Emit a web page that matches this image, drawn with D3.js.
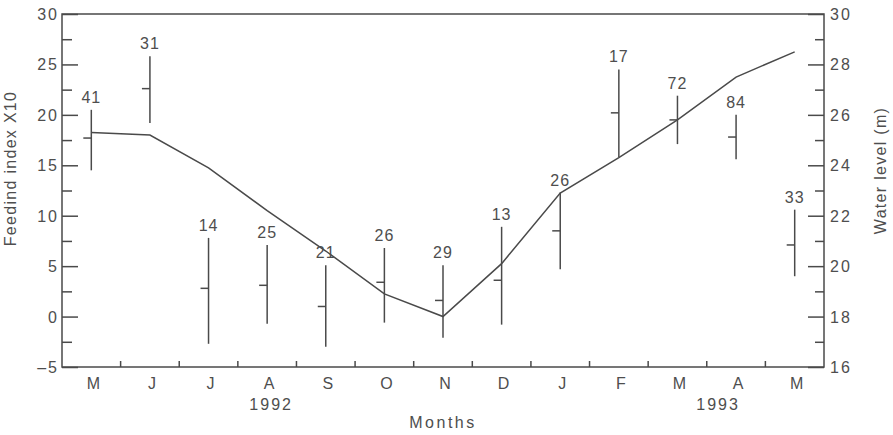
<!DOCTYPE html>
<html>
<head>
<meta charset="utf-8">
<script src="https://cdn.jsdelivr.net/npm/d3@7"></script>
<style>
  body { margin: 0; background: #fff; }
  svg text { font-family: "Liberation Sans", Arial, sans-serif; fill: #4e4e4e; }
</style>
</head>
<body>
<svg id="chart" width="893" height="435"></svg>
<script>
// months May 1992 .. May 1993
var months = ["M", "J", "J", "A", "S", "O", "N", "D", "J", "F", "M", "A", "M"];
var sampleSizes = [41, 31, 14, 25, 21, 26, 29, 13, 26, 17, 72, 84, 33];
// feeding index x10: mean, top and bottom of each bar
var feedMean = [17.7, 22.6, 2.8, 3.1, 1.0, 3.4, 1.6, 3.6, 8.5, 20.2, 19.5, 17.8, 7.1];
var feedHigh = [20.5, 25.8, 7.8, 7.1, 5.1, 6.8, 5.1, 8.9, 12.3, 24.5, 21.9, 20.0, 10.6];
var feedLow = [14.5, 19.2, -2.7, -0.7, -3.0, -0.6, -2.1, -0.8, 4.7, 15.8, 17.1, 15.6, 4.0];
// water level (m)
var waterLevel = [25.3, 25.2, 23.9, 22.2, 20.6, 18.9, 18.0, 20.1, 22.9, 24.3, 25.8, 27.5, 28.5];
var leftTicks = [-5, 0, 5, 10, 15, 20, 25, 30];
var rightTicks = [16, 18, 20, 22, 24, 26, 28, 30];
var years = [{label: "1992", month: 3, shift: 4}, {label: "1993", month: 11, shift: -18}];

var svg = d3.select("#chart");
var margin = {top: 14, right: 69, bottom: 68, left: 62};
var W = 893 - margin.left - margin.right,
    H = 435 - margin.top - margin.bottom;
var ink = "#4a4a4a";

var g = svg.append("g").attr("transform", "translate(" + margin.left + "," + margin.top + ")");

var x = d3.scaleBand().domain(d3.range(months.length)).range([0, W]);
var y = d3.scaleLinear().domain([-5, 30]).range([H, 0]);
var y2 = d3.scaleLinear().domain([16, 30]).range([H, 0]);
var cx = function(i) { return x(i) + x.bandwidth() / 2; };

// frame
g.append("rect").attr("width", W).attr("height", H)
  .attr("fill", "none").attr("stroke", ink).attr("stroke-width", 1.5);

// left axis, ticks pointing inward
var left = g.append("g").call(d3.axisRight(y).tickValues(d3.range(-5, 30.1, 2.5)).tickSize(0).tickFormat(""));
left.select(".domain").remove();
left.selectAll(".tick line").attr("x2", function(d) { return d % 5 === 0 ? 16 : 10; })
  .attr("stroke", ink).attr("stroke-width", 1.5);
g.selectAll(".ltick").data(leftTicks).enter().append("text")
  .attr("x", -3).attr("y", function(d) { return y(d) + 6; })
  .attr("text-anchor", "end").attr("font-size", 16).attr("letter-spacing", 2)
  .text(function(d) { return d < 0 ? "\u2013" + Math.abs(d) : d; });

// right axis
var right = g.append("g").attr("transform", "translate(" + W + ",0)")
  .call(d3.axisLeft(y2).tickValues(d3.range(16, 30.1, 1)).tickSize(0).tickFormat(""));
right.select(".domain").remove();
right.selectAll(".tick line").attr("x2", function(d) { return d % 2 === 0 ? -16 : -9; })
  .attr("stroke", ink).attr("stroke-width", 1.5);
g.selectAll(".rtick").data(rightTicks).enter().append("text")
  .attr("x", W + 6).attr("y", function(d) { return y2(d) + 6; })
  .attr("font-size", 16).attr("letter-spacing", 2)
  .text(function(d) { return d; });

// bottom axis: small ticks at month boundaries
g.selectAll(".btick").data(d3.range(1, months.length)).enter().append("line")
  .attr("x1", function(i) { return x(i); }).attr("x2", function(i) { return x(i); })
  .attr("y1", H).attr("y2", H - 6).attr("stroke", ink).attr("stroke-width", 1.5);

g.selectAll(".mlab").data(months).enter().append("text")
  .attr("x", function(d, i) { return cx(i) + 2; }).attr("y", H + 22)
  .attr("text-anchor", "middle").attr("font-size", 16)
  .text(function(d) { return d; });

g.selectAll(".ylab").data(years).enter().append("text")
  .attr("x", function(d) { return cx(d.month) + d.shift; }).attr("y", H + 43)
  .attr("text-anchor", "middle").attr("font-size", 16).attr("letter-spacing", 2)
  .text(function(d) { return d.label; });

g.append("text").attr("x", W / 2).attr("y", H + 61)
  .attr("text-anchor", "middle").attr("font-size", 16).attr("letter-spacing", 2.5)
  .text("Months");

// axis titles
svg.append("text").attr("transform", "translate(16," + (margin.top + H / 2 - 22) + ") rotate(-90)")
  .attr("text-anchor", "middle").attr("font-size", 16).attr("letter-spacing", 1.3)
  .text("Feedind index X10");
svg.append("text").attr("transform", "translate(886," + (margin.top + H / 2 - 20) + ") rotate(-90)")
  .attr("text-anchor", "middle").attr("font-size", 16).attr("letter-spacing", 1.3)
  .text("Water level (m)");

// water level line
var line = d3.line().x(function(d, i) { return cx(i); }).y(function(d) { return y2(d); });
g.append("path").datum(waterLevel).attr("d", line)
  .attr("fill", "none").attr("stroke", ink).attr("stroke-width", 1.5);

// feeding index bars
var bars = g.selectAll(".bar").data(months).enter().append("g");
bars.append("line")
  .attr("x1", function(d, i) { return cx(i); }).attr("x2", function(d, i) { return cx(i); })
  .attr("y1", function(d, i) { return y(feedHigh[i]); })
  .attr("y2", function(d, i) { return y(feedLow[i]); })
  .attr("stroke", ink).attr("stroke-width", 1.5);
bars.append("line")
  .attr("x1", function(d, i) { return cx(i) - 8; }).attr("x2", function(d, i) { return cx(i); })
  .attr("y1", function(d, i) { return y(feedMean[i]); })
  .attr("y2", function(d, i) { return y(feedMean[i]); })
  .attr("stroke", ink).attr("stroke-width", 1.5);
bars.append("text")
  .attr("x", function(d, i) { return cx(i); })
  .attr("y", function(d, i) { return y(feedHigh[i]) - 7; })
  .attr("text-anchor", "middle").attr("font-size", 16).attr("letter-spacing", 1)
  .text(function(d, i) { return sampleSizes[i]; });
</script>
</body>
</html>
